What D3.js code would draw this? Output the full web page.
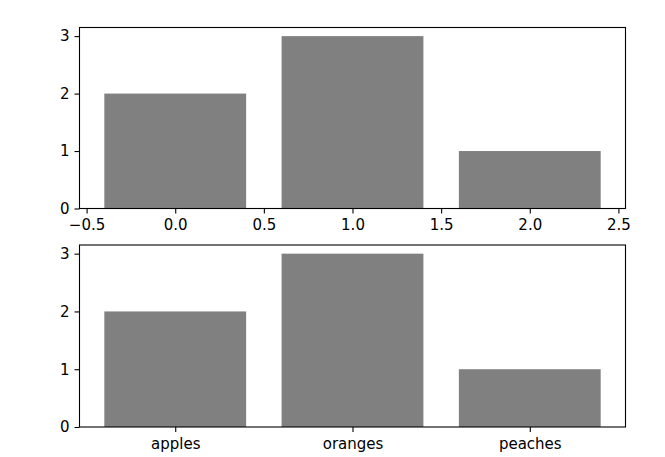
<!DOCTYPE html>
<html>
<head>
<meta charset="utf-8">
<script src="https://cdn.jsdelivr.net/npm/d3@7"></script>
<style>
html,body{margin:0;padding:0;background:#fff;}
svg{display:block;}
text{font-family:"DejaVu Sans",sans-serif;}
</style>
</head>
<body>
<svg id="chart" width="665" height="457"></svg>
<script>
const categories = ["apples", "oranges", "peaches"];
const positions = [0, 1, 2];
const values = [2, 3, 1];
const xTicksNumeric = [-0.5, 0.0, 0.5, 1.0, 1.5, 2.0, 2.5];
const yTicks = [0, 1, 2, 3];

const svg = d3.select("#chart");
const W = 665, H = 457;
const left = 79.5, right = 625.5;
const panels = [
  {top: 27.5, bottom: 208.5, numeric: true},
  {top: 245, bottom: 427, numeric: false}
];
const barWidth = 0.8;
const x = d3.scaleLinear().domain([-0.54, 2.54]).range([left, right]);
const fontSize = 15;

panels.forEach(p => {
  const y = d3.scaleLinear().domain([0, 3.15]).range([p.bottom, p.top]);
  const g = svg.append("g");
  // bars
  g.selectAll("rect.bar").data(values).enter().append("rect")
    .attr("class", "bar")
    .attr("x", (d, i) => x(positions[i] - barWidth / 2))
    .attr("width", (d, i) => x(positions[i] + barWidth / 2) - x(positions[i] - barWidth / 2))
    .attr("y", d => y(d))
    .attr("height", d => y(0) - y(d))
    .attr("fill", "#808080");

  // y axis
  const ya = d3.axisLeft(y).tickValues(yTicks).tickFormat(d3.format("d")).tickSize(5).tickPadding(5);
  const yg = g.append("g").attr("transform", `translate(${left},0)`).call(ya);
  yg.select(".domain").remove();
  yg.selectAll("line").attr("stroke", "#000").attr("stroke-width", 1.1);
  yg.selectAll("text").attr("font-size", fontSize).attr("font-family", "DejaVu Sans").attr("fill", "#000");

  // x axis
  let xa;
  if (p.numeric) {
    xa = d3.axisBottom(x).tickValues(xTicksNumeric).tickFormat(d3.format(".1f"));
  } else {
    xa = d3.axisBottom(x).tickValues(positions).tickFormat((d, i) => categories[i]);
  }
  xa.tickSize(5).tickPadding(6);
  const xg = g.append("g").attr("transform", `translate(0,${p.bottom})`).call(xa);
  xg.select(".domain").remove();
  xg.selectAll("line").attr("stroke", "#000").attr("stroke-width", 1.1);
  xg.selectAll("text").attr("font-size", fontSize).attr("font-family", "DejaVu Sans").attr("fill", "#000");

  // spines
  g.append("rect")
    .attr("x", left).attr("y", p.top)
    .attr("width", right - left).attr("height", p.bottom - p.top)
    .attr("fill", "none").attr("stroke", "#000").attr("stroke-width", 1.1);
});
</script>
</body>
</html>
